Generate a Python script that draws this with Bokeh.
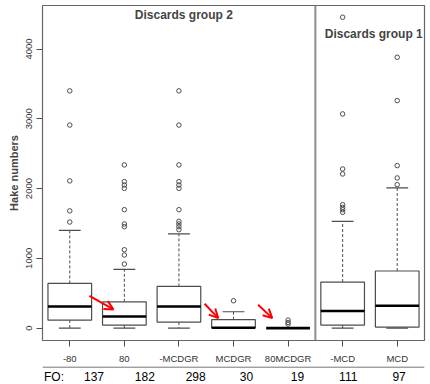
from bokeh.plotting import figure
from bokeh.layouts import column
from bokeh.models import Label, Arrow, OpenHead, Span, FixedTicker, ColumnDataSource
from bokeh.core.properties import value
from bokeh.embed import file_html
from bokeh.resources import INLINE

# ---- data ----
categories = ["-80", "80", "-MCDGR", "MCDGR", "80MCDGR", "-MCD", "MCD"]
fo_counts = [137, 182, 298, 30, 19, 111, 97]
lower_whisker = [0, 0, 0, 0, 0, 0, 0]
q1 = [115, 43, 86, 5, 0, 43, 14]
median = [310, 166, 310, 5, 0, 244, 320]
q3 = [640, 377, 597, 120, 0, 660, 818]
upper_whisker = [1400, 841, 1349, 234, 0, 1530, 2009]
outliers = [
    [1520, 1680, 2110, 2910, 3400],
    [918, 1047, 1123, 1453, 1492, 1697, 2003, 2051, 2099, 2339],
    [1410, 1453, 1492, 1530, 1697, 2003, 2051, 2099, 2339, 2910, 3400],
    [392],
    [57, 80, 115],
    [1659, 1697, 1730, 1769, 2209, 2281, 3070, 4456],
    [2056, 2152, 2329, 3261, 3882],
]
group_titles = ["Discards group 2", "Discards group 1"]
# arrows: (x_start, y_start, x_end, y_end) in data units
arrows = [(1.36, 463, 1.80, 267), (3.47, 349, 3.72, 143), (4.45, 334, 4.71, 143)]

FONT = "Liberation Sans"
BOX_W = 0.8
CAP_W = 0.4
EDGE = "#4d4d4d"

xs = list(range(1, len(categories) + 1))

p = figure(width=430, height=366, output_backend="svg", toolbar_location=None,
           x_range=(0.5, 7.5), y_range=(-178, 4624),
           min_border_left=42, min_border_right=6, min_border_top=5, min_border_bottom=26)
p.background_fill_color = "white"
p.border_fill_color = "white"
p.grid.visible = False
p.outline_line_color = "#666666"
p.outline_line_width = 1.2

src = ColumnDataSource(dict(
    x=xs, lo=lower_whisker, q1=q1, med=median, q3=q3, up=upper_whisker,
    bx0=[x - BOX_W / 2 for x in xs], bx1=[x + BOX_W / 2 for x in xs],
    cx0=[x - CAP_W / 2 for x in xs], cx1=[x + CAP_W / 2 for x in xs],
))

# whiskers
p.segment(x0="x", y0="q3", x1="x", y1="up", source=src, line_color=EDGE,
          line_dash="3 2", line_width=1)
p.segment(x0="x", y0="q1", x1="x", y1="lo", source=src, line_color=EDGE,
          line_dash="3 2", line_width=1)
# caps
p.segment(x0="cx0", y0="up", x1="cx1", y1="up", source=src, line_color=EDGE, line_width=1.2)
p.segment(x0="cx0", y0="lo", x1="cx1", y1="lo", source=src, line_color=EDGE, line_width=1.2)
# boxes
p.vbar(x="x", width=BOX_W, bottom="q1", top="q3", source=src, fill_color="white",
       line_color=EDGE, line_width=1.2)
# medians
p.segment(x0="bx0", y0="med", x1="bx1", y1="med", source=src, line_color="black", line_width=2.6)

# outliers
ox, oy = [], []
for x, vals in zip(xs, outliers):
    for v in vals:
        ox.append(x)
        oy.append(v)
p.scatter(ox, oy, marker="circle", size=4.5, fill_color=None, line_color=EDGE, line_width=1)

# group separator
p.add_layout(Span(location=5.5, dimension="height", line_color="#8c8c8c", line_width=2))

# titles
p.add_layout(Label(x=3.09, y=4481, text=group_titles[0], text_font=FONT, text_font_size="12px",
                   text_font_style="bold", text_align="center", text_baseline="middle"))
p.add_layout(Label(x=6.57, y=4218, text=group_titles[1], text_font=FONT, text_font_size="12px",
                   text_font_style="bold", text_align="center", text_baseline="middle"))

# red arrows
for (x0, y0, x1, y1) in arrows:
    p.add_layout(Arrow(x_start=x0, y_start=y0, x_end=x1, y_end=y1, line_color="red", line_width=2,
                       end=OpenHead(size=9, line_color="red", line_width=2)))

# axes
p.xaxis.ticker = FixedTicker(ticks=xs)
p.xaxis.major_label_overrides = {x: c for x, c in zip(xs, categories)}
p.xaxis.axis_line_color = None
p.xaxis.major_tick_out = 6
p.xaxis.major_tick_in = 0
p.xaxis.minor_tick_line_color = None
p.xaxis.major_tick_line_color = EDGE
p.xaxis.major_label_text_font = FONT
p.xaxis.major_label_text_font_size = "9.5px"
p.xaxis.major_label_text_color = "#333333"
p.xaxis.major_label_standoff = 6

p.yaxis.ticker = FixedTicker(ticks=[0, 1000, 2000, 3000, 4000])
p.yaxis.axis_line_color = None
p.yaxis.major_tick_out = 6
p.yaxis.major_tick_in = 0
p.yaxis.minor_tick_line_color = None
p.yaxis.major_tick_line_color = EDGE
p.yaxis.major_label_orientation = "vertical"
p.yaxis.major_label_text_font = FONT
p.yaxis.major_label_text_font_size = "9.5px"
p.yaxis.major_label_text_color = "#333333"
p.yaxis.major_label_standoff = 4
p.yaxis.axis_label = "Hake numbers"
p.yaxis.axis_label_text_font = FONT
p.yaxis.axis_label_text_font_size = "11px"
p.yaxis.axis_label_text_font_style = "bold"
p.yaxis.axis_label_standoff = 4

# ---- FO strip ----
# frame spans x=14..424 px; same px-per-unit as the main plot
left_ext = 0.5 - 28 / (382 / 7.0)
q = figure(width=430, height=18, output_backend="svg", toolbar_location=None,
           x_range=(left_ext, 7.5), y_range=(0, 1),
           min_border_left=14, min_border_right=6, min_border_top=0, min_border_bottom=0)
q.axis.visible = False
q.grid.visible = False
q.outline_line_color = None
q.background_fill_color = "white"
q.border_fill_color = "white"
q.segment(x0=[left_ext], y0=[0.97], x1=[7.5], y1=[0.97], line_color=EDGE, line_width=1)
q.text(x=[left_ext + 0.03], y=[0.42], text=["FO:"], text_font=value(FONT), text_font_size="12px",
       text_align="left", text_baseline="middle", text_color="black")
q.text(x=xs, y=[0.42] * len(xs), text=[str(n) for n in fo_counts], text_font=value(FONT),
       text_font_size="12px", text_align="center", text_baseline="middle", text_color="black")

layout = column(p, q, spacing=0)
open("out.html", "w").write(file_html(layout, INLINE))
